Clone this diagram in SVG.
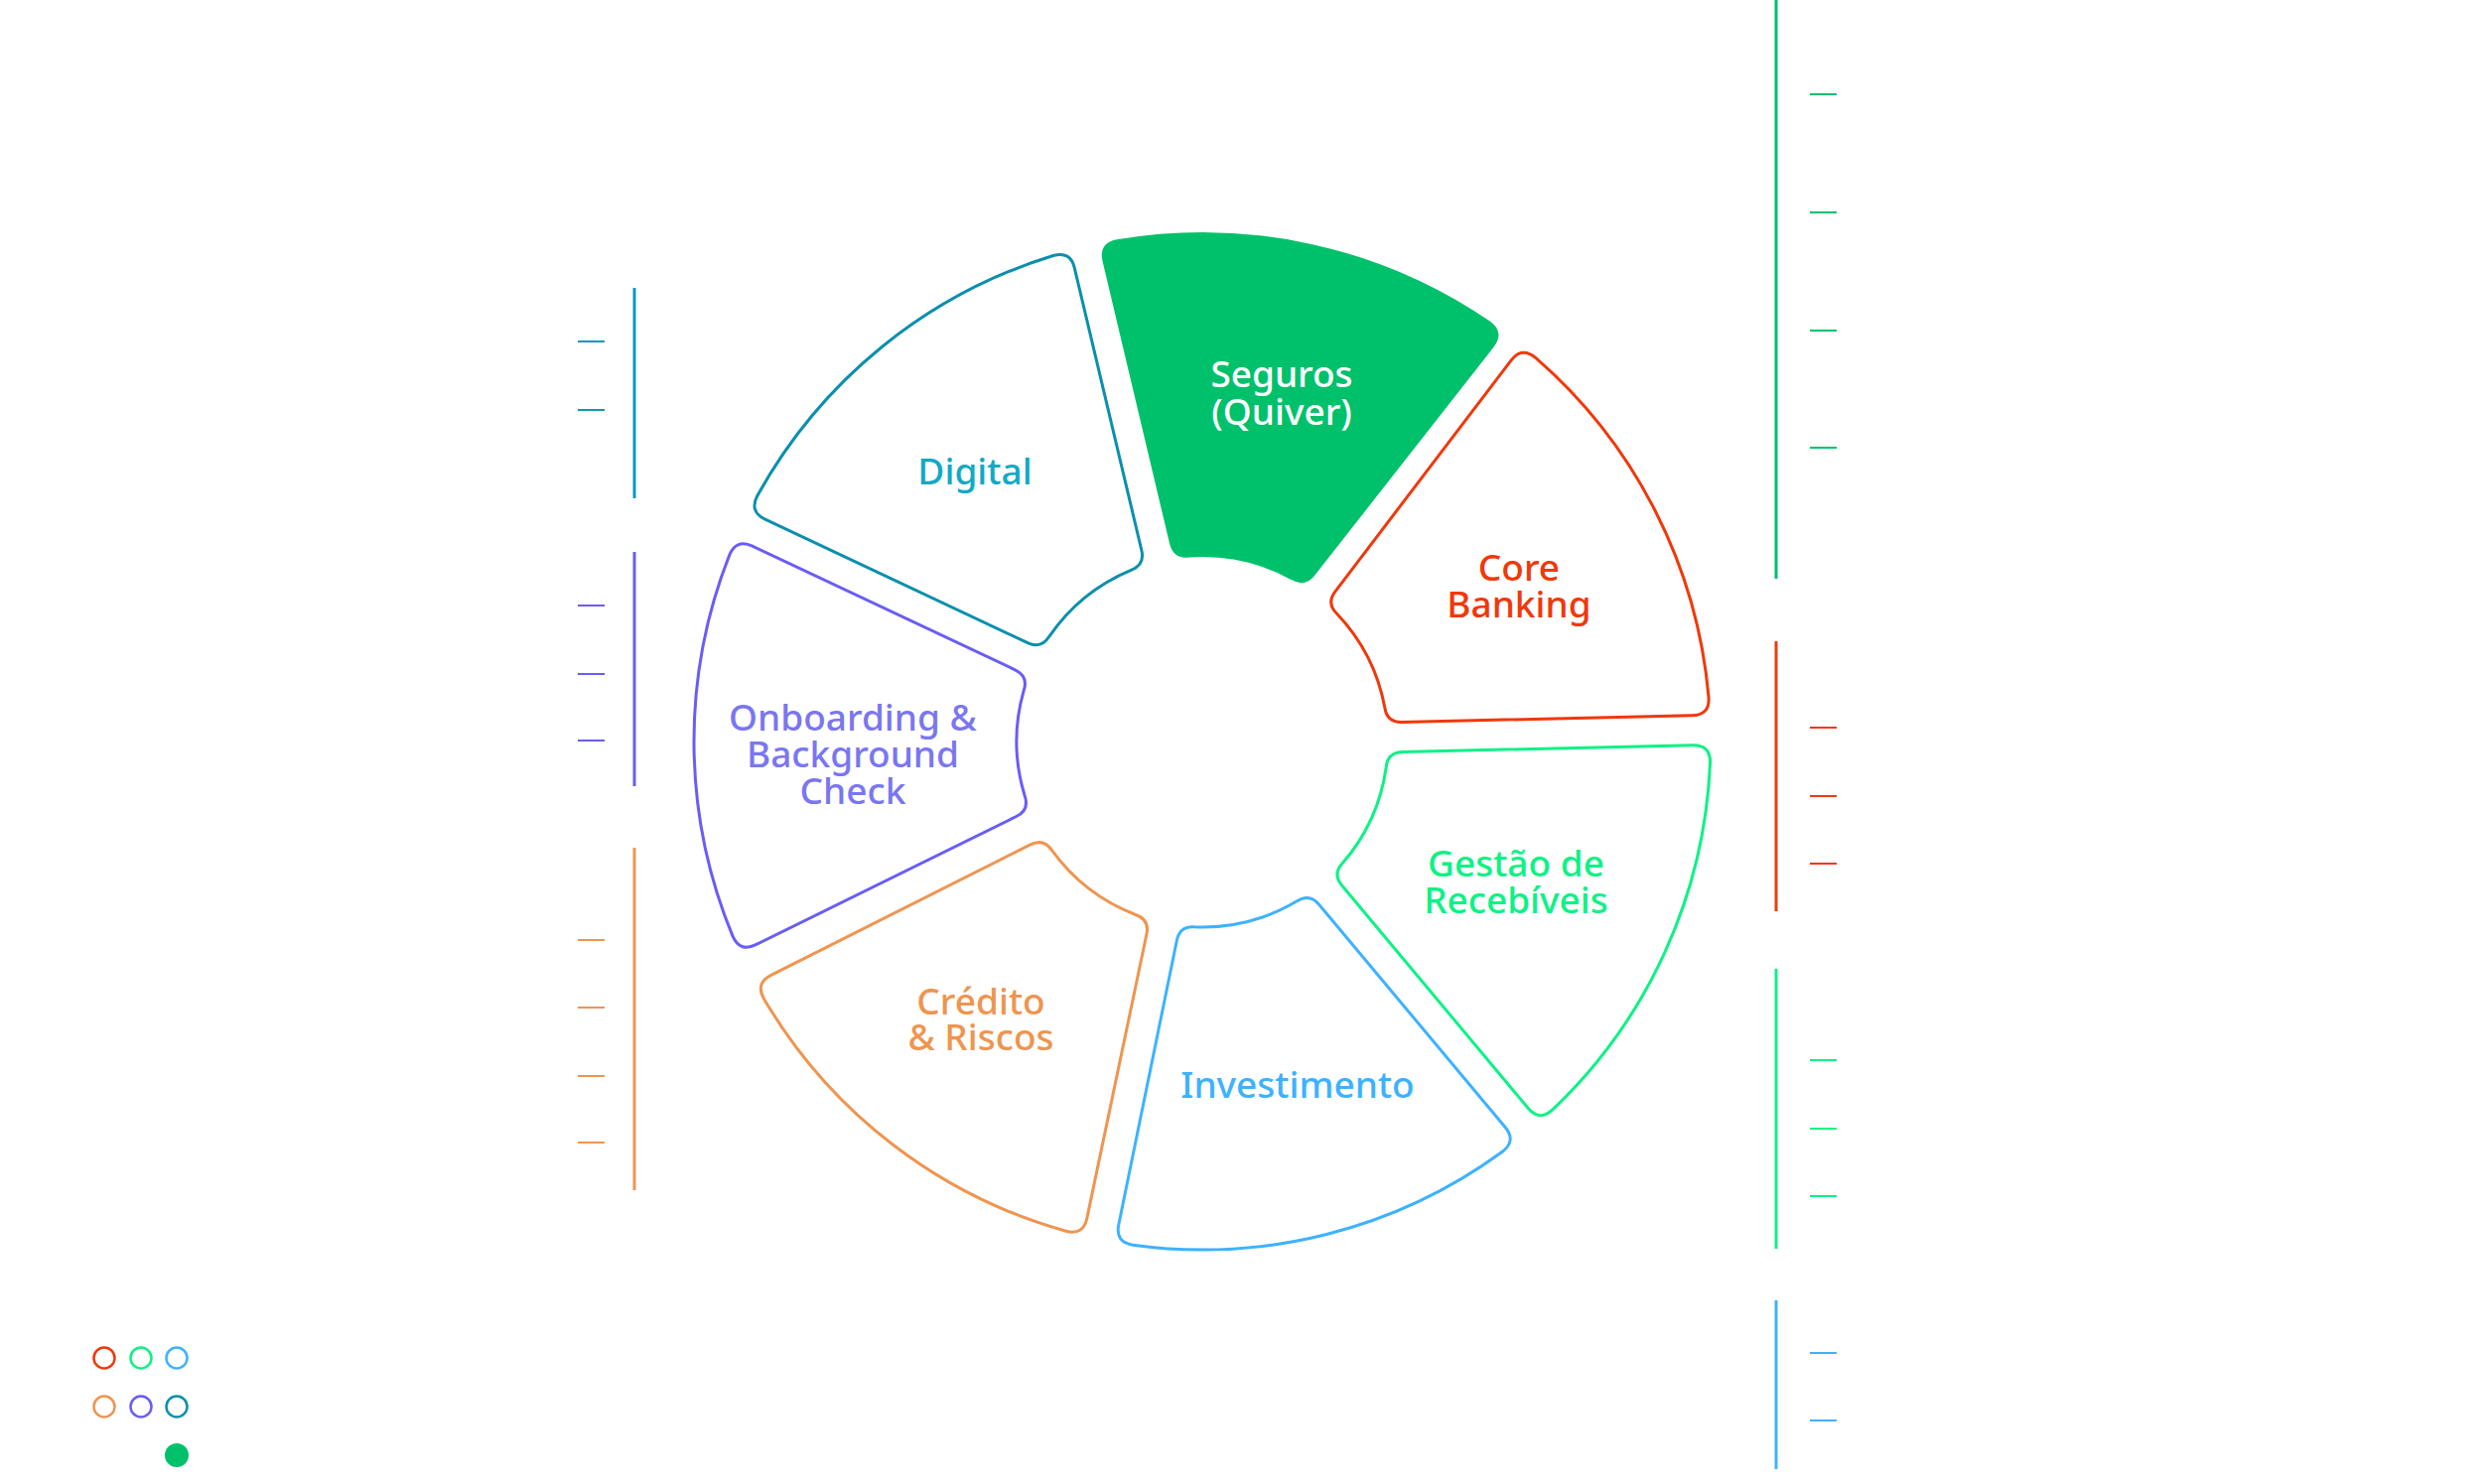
<svg xmlns="http://www.w3.org/2000/svg" width="2500" height="1495" viewBox="0 0 2500 1495">
  <defs>
    <style>
      .seg { fill: none; stroke-width: 3; stroke-linejoin: round; }
      .lbl { font-family: "Noto Sans", "Liberation Sans", sans-serif; font-size: 37px; font-weight: 500; text-anchor: middle; }
      .bar { stroke-width: 3; fill: none; }
      .tick { stroke-width: 2; fill: none; }
      .dot { fill: none; stroke-width: 2.5; }
    </style>
    <path id="sector" d="M -73.87 -187.97 L -200.73 -451.39 Q -208.54 -467.61 -191.96 -474.65 A 512 512 0 0 1 191.96 -474.65 Q 208.54 -467.61 200.73 -451.39 L 73.87 -187.97 Q 67.36 -174.45 53.16 -179.28 A 187 187 0 0 0 -53.16 -179.28 Q -67.36 -174.45 -73.87 -187.97 Z"/>
  </defs>
  <rect width="2500" height="1495" fill="#ffffff"/>

  <g id="connectors">
    <!-- left bars -->
    <line class="bar" x1="639" y1="290" x2="639" y2="502" stroke="#0E98BA"/>
    <line class="tick" x1="582" y1="344" x2="609" y2="344" stroke="#0E98BA"/>
    <line class="tick" x1="582" y1="413" x2="609" y2="413" stroke="#0E98BA"/>

    <line class="bar" x1="639" y1="556" x2="639" y2="792" stroke="#6A5CF6"/>
    <line class="tick" x1="582" y1="610" x2="609" y2="610" stroke="#6A5CF6"/>
    <line class="tick" x1="582" y1="679" x2="609" y2="679" stroke="#6A5CF6"/>
    <line class="tick" x1="582" y1="746" x2="609" y2="746" stroke="#6A5CF6"/>

    <line class="bar" x1="639" y1="854" x2="639" y2="1199" stroke="#EE9550"/>
    <line class="tick" x1="582" y1="947" x2="609" y2="947" stroke="#EE9550"/>
    <line class="tick" x1="582" y1="1015" x2="609" y2="1015" stroke="#EE9550"/>
    <line class="tick" x1="582" y1="1084" x2="609" y2="1084" stroke="#EE9550"/>
    <line class="tick" x1="582" y1="1151" x2="609" y2="1151" stroke="#EE9550"/>

    <!-- right bars -->
    <line class="bar" x1="1789" y1="0" x2="1789" y2="583" stroke="#00C16B"/>
    <line class="tick" x1="1823" y1="95" x2="1850" y2="95" stroke="#00C16B"/>
    <line class="tick" x1="1823" y1="214" x2="1850" y2="214" stroke="#00C16B"/>
    <line class="tick" x1="1823" y1="333" x2="1850" y2="333" stroke="#00C16B"/>
    <line class="tick" x1="1823" y1="451" x2="1850" y2="451" stroke="#00C16B"/>

    <line class="bar" x1="1789" y1="646" x2="1789" y2="918" stroke="#EE3A10"/>
    <line class="tick" x1="1823" y1="733" x2="1850" y2="733" stroke="#EE3A10"/>
    <line class="tick" x1="1823" y1="802" x2="1850" y2="802" stroke="#EE3A10"/>
    <line class="tick" x1="1823" y1="870" x2="1850" y2="870" stroke="#EE3A10"/>

    <line class="bar" x1="1789" y1="976" x2="1789" y2="1258" stroke="#0DF285"/>
    <line class="tick" x1="1823" y1="1068" x2="1850" y2="1068" stroke="#0DF285"/>
    <line class="tick" x1="1823" y1="1137" x2="1850" y2="1137" stroke="#0DF285"/>
    <line class="tick" x1="1823" y1="1205" x2="1850" y2="1205" stroke="#0DF285"/>

    <line class="bar" x1="1789" y1="1310" x2="1789" y2="1480" stroke="#3DB2FF"/>
    <line class="tick" x1="1823" y1="1363" x2="1850" y2="1363" stroke="#3DB2FF"/>
    <line class="tick" x1="1823" y1="1431" x2="1850" y2="1431" stroke="#3DB2FF"/>
  </g>

  <g id="seguros">
    <use href="#sector" transform="translate(1211,747) rotate(12.36)" fill="#00C16B" stroke="#00C16B" stroke-width="2"/>
    <text class="lbl" x="1291" y="390" fill="#ffffff">Seguros</text>
    <text class="lbl" x="1291" y="428" fill="#ffffff">(Quiver)</text>
  </g>

  <g id="core-banking">
    <use href="#sector" class="seg" transform="translate(1211,747) rotate(62.99)" stroke="#F0380A"/>
    <text class="lbl" x="1530" y="585" fill="#F0380A">Core</text>
    <text class="lbl" x="1530" y="622" fill="#F0380A">Banking</text>
  </g>

  <g id="gestao">
    <use href="#sector" class="seg" transform="translate(1211,747) rotate(114.41)" stroke="#0DF285"/>
    <text class="lbl" x="1527" y="883" fill="#0DF285">Gestão de</text>
    <text class="lbl" x="1527" y="920" fill="#0DF285">Recebíveis</text>
  </g>

  <g id="investimento">
    <use href="#sector" class="seg" transform="translate(1211,747) rotate(165.84)" stroke="#3DB2FF"/>
    <text class="lbl" x="1307" y="1106" fill="#3DB2FF">Investimento</text>
  </g>

  <g id="credito">
    <use href="#sector" class="seg" transform="translate(1211,747) rotate(217.57)" stroke="#EE9550"/>
    <text class="lbl" x="988" y="1022" fill="#EE9550">Crédito</text>
    <text class="lbl" x="988" y="1058" fill="#EE9550">&amp; Riscos</text>
  </g>

  <g id="onboarding">
    <use href="#sector" class="seg" transform="translate(1211,747) rotate(269.5)" stroke="#6A5CF6"/>
    <text class="lbl" x="859" y="736" fill="#7A76F0">Onboarding &amp;</text>
    <text class="lbl" x="859" y="773" fill="#7A76F0">Background</text>
    <text class="lbl" x="859" y="810" fill="#7A76F0">Check</text>
  </g>

  <g id="digital">
    <use href="#sector" class="seg" transform="translate(1211,747) rotate(320.93)" stroke="#0B8FAD"/>
    <text class="lbl" x="982" y="488" fill="#12A9C6">Digital</text>
  </g>

  <g id="legend">
    <circle class="dot" cx="105" cy="1368" r="10.5" stroke="#F0380A"/>
    <circle class="dot" cx="142" cy="1368" r="10.5" stroke="#0DF285"/>
    <circle class="dot" cx="178" cy="1368" r="10.5" stroke="#3DB2FF"/>
    <circle class="dot" cx="105" cy="1417" r="10.5" stroke="#EE9550"/>
    <circle class="dot" cx="142" cy="1417" r="10.5" stroke="#6A5CF6"/>
    <circle class="dot" cx="178" cy="1417" r="10.5" stroke="#0B8FAD"/>
    <circle cx="178" cy="1466" r="12" fill="#00C16B"/>
  </g>
</svg>
